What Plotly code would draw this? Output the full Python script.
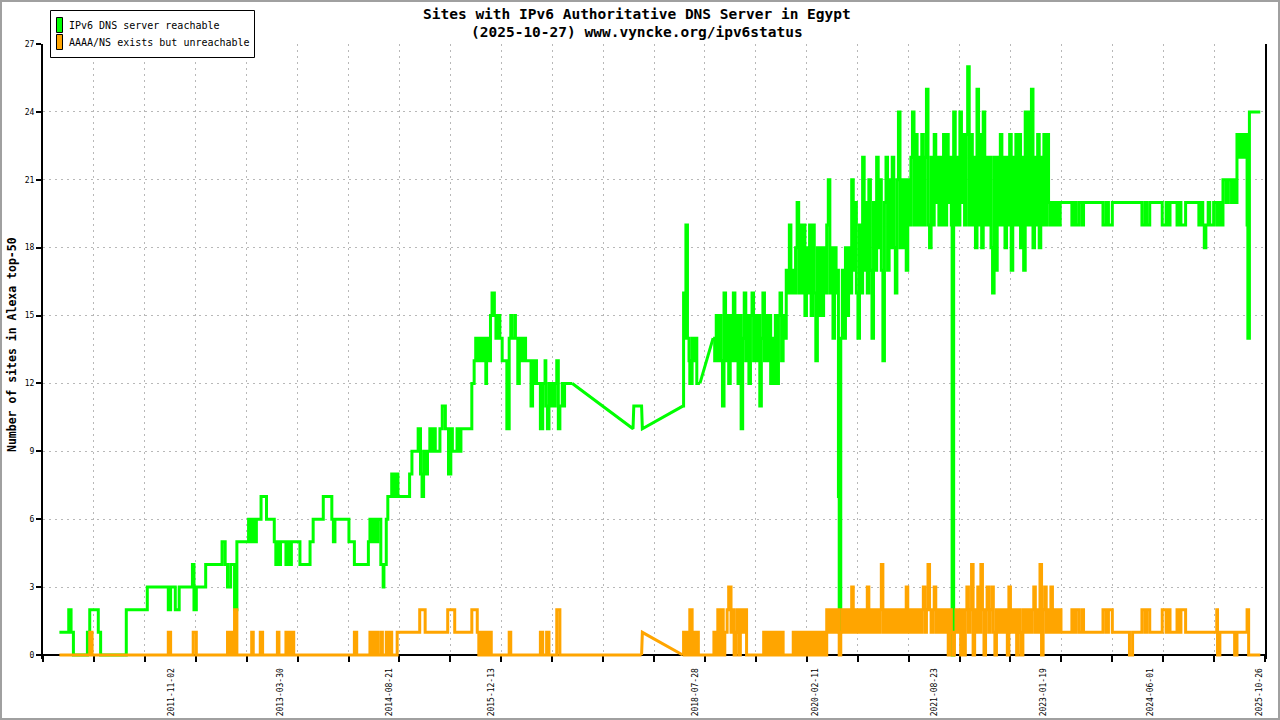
import plotly.graph_objects as go
import pandas as pd

# ---------------- data (decimal years) ----------------
reach_years = [
    2010.40, 2010.52, 2010.55, 2010.58, 2010.76, 2010.79, 2010.90, 2010.93, 2011.26, 2011.53,
    2011.80, 2011.83, 2011.89, 2011.94, 2012.11, 2012.13, 2012.16, 2012.28, 2012.49, 2012.53,
    2012.56, 2012.60, 2012.65, 2012.68, 2012.83, 2012.85, 2012.88, 2012.90, 2012.93, 2012.99,
    2013.06, 2013.16, 2013.18, 2013.20, 2013.22, 2013.24, 2013.31, 2013.33, 2013.36, 2013.38,
    2013.49, 2013.62, 2013.66, 2013.79, 2013.90, 2013.92, 2013.94, 2014.12, 2014.19, 2014.37,
    2014.39, 2014.42, 2014.44, 2014.47, 2014.49, 2014.53, 2014.56, 2014.57, 2014.60, 2014.62,
    2014.67, 2014.69, 2014.72, 2014.75, 2014.90, 2014.93, 2015.01, 2015.04, 2015.06, 2015.08,
    2015.11, 2015.13, 2015.16, 2015.19, 2015.20, 2015.23, 2015.29, 2015.32, 2015.36, 2015.40,
    2015.43, 2015.45, 2015.51, 2015.53, 2015.56, 2015.70, 2015.73, 2015.75, 2015.78, 2015.80,
    2015.83, 2015.86, 2015.88, 2015.89, 2015.92, 2015.94, 2015.96, 2015.99, 2016.01, 2016.04,
    2016.06, 2016.09, 2016.15, 2016.18, 2016.20, 2016.21, 2016.25, 2016.26, 2016.29, 2016.31,
    2016.34, 2016.37, 2016.39, 2016.46, 2016.48, 2016.51, 2016.52, 2016.53, 2016.58, 2016.61,
    2016.64, 2016.65, 2016.67, 2016.69, 2016.71, 2016.73, 2016.75, 2016.77, 2016.79, 2016.81,
    2016.83, 2016.86, 2016.88, 2016.89, 2016.99, 2017.77, 2017.78, 2017.88, 2017.89, 2018.41,
    2018.42, 2018.44, 2018.45, 2018.47, 2018.49, 2018.50, 2018.53, 2018.55, 2018.57, 2018.59,
    2018.63,
    2018.80, 2018.82, 2018.84, 2018.86, 2018.88, 2018.90, 2018.92, 2018.94, 2018.96, 2018.98,
    2019.00, 2019.02, 2019.04, 2019.06, 2019.08, 2019.10, 2019.12, 2019.14, 2019.16, 2019.18,
    2019.20, 2019.22, 2019.24, 2019.26, 2019.28, 2019.30, 2019.32, 2019.34, 2019.36, 2019.38,
    2019.40, 2019.42, 2019.44, 2019.46, 2019.48, 2019.50, 2019.52, 2019.54, 2019.56, 2019.58,
    2019.60, 2019.62, 2019.64, 2019.66, 2019.68, 2019.70, 2019.72, 2019.74, 2019.76, 2019.78,
    2019.80, 2019.82, 2019.84, 2019.86, 2019.88, 2019.90, 2019.92, 2019.94, 2019.96, 2019.98,
    2020.00, 2020.02, 2020.04, 2020.06, 2020.08, 2020.10, 2020.12, 2020.14, 2020.16, 2020.18,
    2020.20, 2020.22, 2020.24, 2020.26, 2020.28, 2020.30, 2020.32, 2020.34, 2020.36, 2020.38,
    2020.40, 2020.41, 2020.42, 2020.44, 2020.46, 2020.48, 2020.50, 2020.52, 2020.54, 2020.56,
    2020.58, 2020.60, 2020.62, 2020.64, 2020.66, 2020.68, 2020.70, 2020.72, 2020.74, 2020.76,
    2020.78, 2020.80, 2020.82, 2020.84, 2020.86, 2020.88, 2020.90, 2020.92, 2020.94, 2020.96,
    2020.98, 2021.00, 2021.02, 2021.04, 2021.06, 2021.08, 2021.10, 2021.12, 2021.14, 2021.16,
    2021.18, 2021.20, 2021.22, 2021.24, 2021.26, 2021.28, 2021.30, 2021.32, 2021.34, 2021.36,
    2021.38, 2021.40, 2021.42, 2021.44, 2021.46, 2021.48, 2021.50, 2021.52, 2021.54, 2021.56,
    2021.58, 2021.60, 2021.62, 2021.64, 2021.66, 2021.68, 2021.70, 2021.72, 2021.74, 2021.76,
    2021.78, 2021.80, 2021.82, 2021.84, 2021.86, 2021.87, 2021.89, 2021.91, 2021.93, 2021.95,
    2021.97, 2021.99, 2022.01, 2022.03, 2022.05, 2022.07, 2022.09, 2022.11, 2022.13, 2022.15,
    2022.17, 2022.19, 2022.21, 2022.23, 2022.25, 2022.27, 2022.29, 2022.31, 2022.33, 2022.35,
    2022.37, 2022.39, 2022.41, 2022.43, 2022.45, 2022.47, 2022.49, 2022.51, 2022.53, 2022.55,
    2022.57, 2022.59, 2022.61, 2022.63, 2022.65, 2022.67, 2022.69, 2022.71, 2022.73, 2022.75,
    2022.77, 2022.79, 2022.81, 2022.83, 2022.85, 2022.87, 2022.89, 2022.91, 2022.93, 2022.95,
    2022.97, 2022.99, 2023.01, 2023.03, 2023.05, 2023.07, 2023.09, 2023.11, 2023.13, 2023.15,
    2023.18, 2023.20, 2023.23, 2023.26, 2023.41, 2023.44, 2023.46, 2023.50, 2023.54, 2023.56,
    2023.81, 2023.85, 2023.88, 2023.93, 2024.31, 2024.35, 2024.37, 2024.41, 2024.57, 2024.62,
    2024.64, 2024.67, 2024.76, 2024.79, 2024.81, 2024.87, 2025.04, 2025.07, 2025.09, 2025.11,
    2025.13, 2025.16, 2025.18, 2025.23, 2025.27, 2025.30, 2025.33, 2025.35, 2025.39, 2025.42,
    2025.46, 2025.48, 2025.51, 2025.53, 2025.56, 2025.58, 2025.61, 2025.64, 2025.66, 2025.67,
    2025.69, 2025.83,
]
reach_vals = [
    1, 2, 1, 0, 1, 2, 1, 0, 2, 3,
    2, 3, 2, 3, 4, 2, 3, 4, 5, 4,
    3, 4, 2, 5, 6, 5, 6, 5, 6, 7,
    6, 5, 4, 5, 4, 5, 4, 5, 4, 5,
    4, 5, 6, 7, 6, 5, 6, 5, 4, 5,
    6, 5, 6, 5, 6, 4, 3, 4, 6, 7,
    8, 7, 8, 7, 8, 9, 10, 8, 7, 9,
    8, 9, 10, 9, 10, 9, 10, 11, 10, 8,
    10, 9, 10, 9, 10, 12, 13, 14, 13, 14,
    13, 14, 12, 14, 13, 15, 16, 15, 14, 15,
    14, 13, 10, 14, 15, 14, 15, 14, 12, 14,
    13, 14, 13, 11, 13, 12, 13, 12, 10, 12,
    13, 11, 10, 12, 11, 12, 11, 12, 13, 10,
    11, 12, 11, 12, 12, 10, 11, 11, 10, 11,
    16, 14, 19, 14, 13, 12, 14, 13, 14, 12,
    12,
    14, 13, 15, 13, 15, 13, 11, 16, 13, 15,
    12, 15, 13, 16, 13, 15, 12, 15, 10, 14,
    16, 13, 15, 12, 15, 16, 13, 15, 13, 15,
    11, 14, 16, 13, 15, 13, 15, 12, 14, 12,
    15, 12, 15, 16, 13, 15, 14, 17, 16, 19,
    16, 17, 16, 18, 20, 16, 19, 16, 19, 15,
    18, 16, 19, 15, 19, 16, 13, 18, 15, 18,
    15, 18, 16, 19, 21, 16, 18, 14, 18, 16,
    17, 7, 1, 14, 17, 14, 18, 15, 18, 16,
    21, 17, 20, 16, 14, 19, 16, 22, 17, 20,
    16, 21, 17, 14, 20, 17, 22, 18, 21, 17,
    13, 20, 22, 17, 21, 18, 22, 18, 16, 21,
    24, 18, 21, 18, 21, 17, 21, 19, 22, 24,
    19, 23, 19, 22, 19, 23, 19, 22, 25, 19,
    18, 22, 19, 23, 20, 22, 19, 22, 19, 23,
    19, 23, 20, 22, 19, 0, 24, 19, 22, 19,
    24, 20, 23, 19, 23, 26, 19, 23, 19, 22,
    18, 25, 19, 23, 18, 24, 19, 22, 19, 22,
    18, 16, 22, 17, 22, 19, 23, 19, 22, 18,
    22, 19, 23, 17, 22, 19, 23, 19, 23, 18,
    22, 17, 24, 19, 24, 19, 25, 18, 22, 19,
    23, 18, 22, 19, 23, 19, 23, 20, 19, 20,
    19, 20, 19, 20, 19, 20, 19, 20, 19, 20,
    19, 20, 19, 20, 19, 20, 19, 20, 19, 20,
    19, 20, 19, 20, 19, 20, 19, 20, 19, 18,
    19, 20, 19, 20, 19, 20, 19, 21, 20, 21,
    20, 21, 20, 23, 22, 23, 22, 23, 19, 14,
    24, 24,
]

unreach_years = [
    2010.40, 2010.79, 2010.82, 2011.80, 2011.83, 2012.12, 2012.16, 2012.56, 2012.58, 2012.60,
    2012.62, 2012.65, 2012.68, 2012.87, 2012.89, 2012.98, 2013.01, 2013.20, 2013.22, 2013.31,
    2013.33, 2013.34, 2013.37, 2013.38, 2013.41, 2014.19, 2014.22, 2014.39, 2014.41, 2014.42,
    2014.45, 2014.46, 2014.49, 2014.53, 2014.55, 2014.60, 2014.63, 2014.65, 2014.67, 2014.74,
    2015.03, 2015.10, 2015.39, 2015.48, 2015.70, 2015.77, 2015.79, 2015.81, 2015.83, 2015.85,
    2015.87, 2015.89, 2015.91, 2015.93, 2015.95, 2016.18, 2016.20, 2016.58, 2016.61, 2016.66,
    2016.69, 2016.79, 2016.83, 2017.88, 2017.89, 2018.41, 2018.42, 2018.44, 2018.46, 2018.48,
    2018.50, 2018.53, 2018.55, 2018.57, 2018.59, 2018.61, 2018.81, 2018.84, 2018.86, 2018.88,
    2018.90, 2018.91, 2018.93, 2018.95, 2018.98, 2019.00, 2019.03, 2019.05, 2019.07, 2019.09,
    2019.11, 2019.13, 2019.15, 2019.16, 2019.18, 2019.21, 2019.23, 2019.45, 2019.47, 2019.49,
    2019.50, 2019.52, 2019.54, 2019.56, 2019.58, 2019.60, 2019.62, 2019.64, 2019.66, 2019.68,
    2019.70, 2019.83, 2019.85, 2019.87, 2019.89, 2019.91, 2019.93, 2019.95, 2019.97, 2019.99,
    2020.01, 2020.03, 2020.05, 2020.06, 2020.08, 2020.10, 2020.12, 2020.14, 2020.16, 2020.18,
    2020.20, 2020.22, 2020.24,
    2020.26, 2020.28, 2020.30, 2020.32, 2020.34, 2020.36, 2020.38, 2020.40, 2020.41, 2020.42,
    2020.44, 2020.46, 2020.48, 2020.50, 2020.52, 2020.54, 2020.56, 2020.58, 2020.60, 2020.62,
    2020.64, 2020.66, 2020.68, 2020.70, 2020.72, 2020.74, 2020.76, 2020.78, 2020.80, 2020.82,
    2020.84, 2020.86, 2020.88, 2020.90, 2020.92, 2020.94, 2020.96, 2020.98, 2021.00, 2021.02,
    2021.04, 2021.06, 2021.08, 2021.10, 2021.12, 2021.14, 2021.16, 2021.18, 2021.20, 2021.22,
    2021.24, 2021.26, 2021.28, 2021.30, 2021.32, 2021.34, 2021.36, 2021.38, 2021.40, 2021.42,
    2021.44, 2021.46, 2021.48, 2021.50, 2021.52, 2021.54, 2021.56, 2021.58, 2021.60, 2021.62,
    2021.64, 2021.66, 2021.68, 2021.70, 2021.72, 2021.74, 2021.76, 2021.78, 2021.80, 2021.82,
    2021.84, 2021.86, 2021.88, 2021.90, 2021.92, 2021.94, 2021.96, 2021.98, 2022.00, 2022.02,
    2022.04, 2022.06, 2022.08, 2022.10, 2022.12, 2022.14, 2022.16, 2022.18, 2022.20, 2022.22,
    2022.24, 2022.26, 2022.28, 2022.30, 2022.32, 2022.34, 2022.36, 2022.38, 2022.40, 2022.42,
    2022.44, 2022.46, 2022.48, 2022.50, 2022.52, 2022.54, 2022.56, 2022.58, 2022.60, 2022.62,
    2022.64, 2022.66, 2022.68, 2022.70, 2022.72, 2022.74, 2022.76, 2022.78, 2022.80, 2022.82,
    2022.84, 2022.86, 2022.88, 2022.90, 2022.92, 2022.94, 2022.96, 2022.98, 2023.00, 2023.02,
    2023.04, 2023.06, 2023.08, 2023.10, 2023.12, 2023.14, 2023.16, 2023.18, 2023.20, 2023.22,
    2023.24, 2023.26, 2023.27,
    2023.41, 2023.44, 2023.46, 2023.50, 2023.54, 2023.56, 2023.81, 2023.85, 2023.88, 2023.93,
    2024.15, 2024.19, 2024.31, 2024.35, 2024.37, 2024.41, 2024.57, 2024.62, 2024.64, 2024.67,
    2024.76, 2024.79, 2024.81, 2024.87, 2025.27, 2025.28, 2025.31, 2025.50, 2025.53, 2025.66,
    2025.68, 2025.83,
]
unreach_vals = [
    0, 1, 0, 1, 0, 1, 0, 1, 0, 1,
    0, 2, 0, 1, 0, 1, 0, 1, 0, 1,
    0, 1, 0, 1, 0, 1, 0, 1, 0, 1,
    0, 1, 0, 1, 0, 1, 0, 1, 0, 1,
    2, 1, 2, 1, 2, 1, 0, 1, 0, 1,
    0, 1, 0, 1, 0, 1, 0, 1, 0, 1,
    0, 2, 0, 0, 1, 0, 1, 0, 1, 0,
    2, 0, 1, 0, 1, 0, 1, 0, 2, 0,
    1, 2, 0, 1, 2, 3, 1, 2, 0, 1,
    2, 0, 1, 2, 1, 2, 0, 1, 0, 1,
    0, 1, 0, 1, 0, 1, 0, 1, 0, 1,
    0, 1, 0, 1, 0, 1, 0, 1, 0, 1,
    0, 1, 0, 1, 0, 1, 0, 1, 0, 1,
    0, 1, 0,
    2, 1, 2, 1, 2, 1, 2, 1, 2, 0,
    1, 2, 1, 2, 1, 2, 1, 3, 1, 2,
    1, 2, 1, 2, 1, 2, 1, 3, 1, 2,
    1, 2, 1, 2, 1, 2, 4, 1, 2, 1,
    2, 1, 2, 1, 2, 1, 2, 1, 2, 1,
    2, 1, 3, 1, 2, 1, 2, 1, 2, 1,
    2, 1, 2, 3, 1, 2, 4, 2, 1, 2,
    3, 1, 2, 1, 2, 1, 2, 1, 2, 0,
    2, 1, 0, 1, 2, 1, 2, 0, 2, 0,
    2, 3, 1, 2, 4, 0, 2, 1, 3, 1,
    4, 2, 0, 2, 3, 1, 2, 3, 1, 0,
    2, 1, 2, 1, 2, 1, 2, 0, 3, 1,
    2, 1, 2, 0, 2, 1, 0, 2, 1, 2,
    1, 2, 1, 2, 3, 1, 2, 1, 4, 0,
    2, 3, 1, 2, 1, 3, 1, 2, 1, 2,
    1, 2, 1,
    2, 1, 2, 1, 2, 1, 2, 1, 2, 1,
    0, 1, 2, 1, 2, 1, 2, 1, 2, 1,
    2, 1, 2, 1, 2, 0, 1, 0, 1, 2,
    0, 0,
]

# periods with sparse sampling, drawn as straight lines between samples
sparse_spans = [(2016.99, 2018.41), (2018.63, 2018.80)]

series_names = ["IPv6 DNS server reachable", "AAAA/NS exists but unreachable"]
series_colors = ["#00ff00", "#ffa500"]

tick_dates = ["2011-11-02", "2013-03-30", "2014-08-21", "2015-12-13", "2018-07-28",
              "2020-02-11", "2021-08-23", "2023-01-19", "2024-06-01", "2025-10-26"]
y_ticks = [0, 3, 6, 9, 12, 15, 18, 21, 24, 27]

title_lines = ["Sites with IPv6 Authoritative DNS Server in Egypt",
               "(2025-10-27) www.vyncke.org/ipv6status"]
y_title = "Number of sites in Alexa top-50"

assert len(reach_years) == len(reach_vals)
assert len(unreach_years) == len(unreach_vals)

# ---------------- helpers ----------------
W, H = 1280, 720
ML, MR, MT, MB = 43, 15, 44, 61
PW, PH = W - ML - MR, H - MT - MB
Y_MIN = -4 * 27 / 611.0  # small extension below zero so the zero line is not clipped
X_RANGE = ["2010-03-11", "2025-11-22"]
MONO = "DejaVu Sans Mono"
GRID = "#b8b8b8"


def fx(px):
    return (px - ML) / PW


def fy(py):
    return (H - MB - py) / PH


def to_date(y):
    yr = int(y)
    start = pd.Timestamp(yr, 1, 1)
    length = (pd.Timestamp(yr + 1, 1, 1) - start).days
    return start + pd.Timedelta(days=(y - yr) * length)


def split_runs(years, vals, spans):
    runs = []
    xs, ys, shape = [years[0]], [vals[0]], None
    for i in range(1, len(years)):
        a, b = years[i - 1], years[i]
        s = "linear" if any(lo <= a and b <= hi for lo, hi in spans) else "hv"
        if shape is not None and s != shape:
            runs.append((xs, ys, shape))
            xs, ys = [a], [vals[i - 1]]
        shape = s
        xs.append(b)
        ys.append(vals[i])
    runs.append((xs, ys, shape))
    return runs


fig = go.Figure()
for name, color, yrs, vals in [
    (series_names[0], series_colors[0], reach_years, reach_vals),
    (series_names[1], series_colors[1], unreach_years, unreach_vals),
]:
    for xs, ys, shape in split_runs(yrs, vals, sparse_spans):
        fig.add_trace(go.Scatter(
            x=[to_date(v) for v in xs], y=ys, mode="lines", name=name,
            line=dict(color=color, width=3, shape=shape),
            showlegend=False, hoverinfo="skip",
        ))

minor_vals = list(pd.date_range(X_RANGE[0], X_RANGE[1], periods=25))

fig.update_layout(
    width=W, height=H,
    margin=dict(l=ML, r=MR, t=MT, b=MB, autoexpand=False),
    paper_bgcolor="white", plot_bgcolor="white",
    showlegend=False,
    font=dict(family=MONO, size=8, color="black"),
    xaxis=dict(
        type="date", range=X_RANGE, anchor="free", position=fy(655),
        tickmode="array", tickvals=tick_dates, ticktext=tick_dates,
        tickangle=-90, ticks="outside", ticklen=9, tickcolor="rgba(0,0,0,0)",
        tickfont=dict(family=MONO, size=8, color="black"),
        showgrid=False, zeroline=False,
        showline=True, linecolor="black", linewidth=2,
        layer="below traces", automargin=False,
        minor=dict(tickmode="array", tickvals=minor_vals, ticks="outside",
                   ticklen=6, tickwidth=1.5, tickcolor="black",
                   showgrid=True, gridcolor=GRID, griddash="2px,4px", gridwidth=1),
    ),
    yaxis=dict(
        range=[Y_MIN, 27], tickmode="array", tickvals=y_ticks,
        ticks="outside", ticklen=5, tickwidth=1.5, tickcolor="black",
        tickfont=dict(family=MONO, size=8, color="black"),
        showline=True, mirror=True, linecolor="black", linewidth=2,
        showgrid=True, gridcolor=GRID, griddash="2px,4px", gridwidth=1,
        zeroline=False, automargin=False,
    ),
)

shapes = [
    # outer image border
    dict(type="rect", xref="paper", yref="paper", x0=fx(1), x1=fx(1279), y0=fy(1), y1=fy(719),
         line=dict(color="#a0a0a0", width=2), fillcolor="rgba(0,0,0,0)", layer="above"),
    # legend box
    dict(type="rect", xref="paper", yref="paper", x0=fx(50.5), x1=fx(254.5), y0=fy(10.5), y1=fy(57.5),
         line=dict(color="black", width=1), fillcolor="white", layer="above"),
    dict(type="rect", xref="paper", yref="paper", x0=fx(56.5), x1=fx(62.5), y0=fy(17.5), y1=fy(32.5),
         line=dict(color="black", width=1), fillcolor=series_colors[0], layer="above"),
    dict(type="rect", xref="paper", yref="paper", x0=fx(56.5), x1=fx(62.5), y0=fy(34.5), y1=fy(49.5),
         line=dict(color="black", width=1), fillcolor=series_colors[1], layer="above"),
]
fig.update_layout(shapes=shapes)

annotations = [
    dict(text=series_names[0], x=fx(67), y=fy(25.5), xanchor="left", yanchor="middle"),
    dict(text=series_names[1], x=fx(67), y=fy(42.5), xanchor="left", yanchor="middle"),
]
for a in annotations:
    a.update(xref="paper", yref="paper", showarrow=False,
             font=dict(family=MONO, size=10, color="black"))
annotations += [
    dict(text="<b>%s</b>" % title_lines[0], x=fx(637), y=fy(13.5), xref="paper", yref="paper",
         xanchor="center", yanchor="middle", showarrow=False,
         font=dict(family=MONO, size=14.5, color="black")),
    dict(text="<b>%s</b>" % title_lines[1], x=fx(637), y=fy(31.5), xref="paper", yref="paper",
         xanchor="center", yanchor="middle", showarrow=False,
         font=dict(family=MONO, size=14.5, color="black")),
    dict(text="<b>%s</b>" % y_title, x=fx(12), y=fy(345), xref="paper", yref="paper",
         xanchor="center", yanchor="middle", textangle=-90, showarrow=False,
         font=dict(family=MONO, size=11.5, color="black")),
]
fig.update_layout(annotations=annotations)

fig.write_html("out.html", config={"displayModeBar": False},
               post_script="document.body.style.margin='0';")
